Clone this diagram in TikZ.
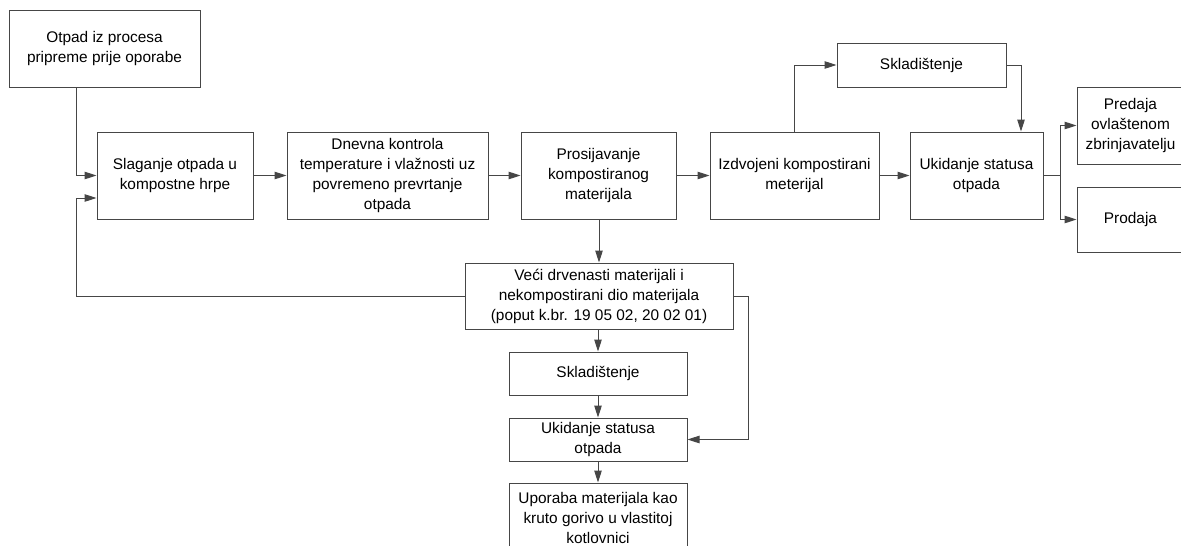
\documentclass[tikz,border=0pt]{standalone}
\usepackage{fontspec}
\setmainfont{Liberation Sans}
\usetikzlibrary{arrows.meta}
\definecolor{ln}{RGB}{70,70,70}
\begin{document}
\begin{tikzpicture}[x=1pt,y=-1pt,
  box/.style={draw=ln, line width=1pt, align=center, inner sep=0pt,
    font=\fontsize{15.4pt}{20pt}\selectfont},
  arr/.style={draw=ln, line width=1pt, -{Triangle[length=12pt,width=7.5pt]}},
  ln/.style={draw=ln, line width=1pt}]
\useasboundingbox (0,0) rectangle (1181,546);
\node[box, minimum width=191pt, minimum height=77pt] (otpad) at (104.5,48.5) {Otpad iz procesa\\pripreme prije oporabe};
\node[box, minimum width=156pt, minimum height=87pt] (slag) at (175,175.5) {Slaganje otpada u\\kompostne hrpe};
\node[box, minimum width=201pt, minimum height=87pt] (dnev) at (387.5,175.5) {Dnevna kontrola\\temperature i vlažnosti uz\\povremeno prevrtanje\\otpada};
\node[box, minimum width=155pt, minimum height=87pt] (pros) at (598.5,175.5) {Prosijavanje\\kompostiranog\\materijala};
\node[box, minimum width=169pt, minimum height=87pt] (izdv) at (794.5,175.5) {Izdvojeni kompostirani\\meterijal};
\node[box, minimum width=133pt, minimum height=87pt] (ukid) at (976.5,175.5) {Ukidanje statusa\\otpada};
\node[box, minimum width=169pt, minimum height=44pt] (skl1) at (921.5,65) {Skladištenje};
\node[box, minimum width=107pt, minimum height=77pt] (pred) at (1130.5,125.5) {Predaja\\ovlaštenom\\zbrinjavatelju};
\node[box, minimum width=107pt, minimum height=65pt] (prod) at (1130.5,219.5) {Prodaja};
\node[box, minimum width=268pt, minimum height=66pt] (veci) at (599,296) {Veći drvenasti materijali i\\nekompostirani dio materijala\\(poput k.br. 19 05 02, 20 02 01)};
\node[box, minimum width=178pt, minimum height=43pt] (skl2) at (598,373.5) {Skladištenje};
\node[box, minimum width=178pt, minimum height=43pt] (ukid2) at (598,439.5) {Ukidanje statusa\\otpada};
\node[box, minimum width=178pt, minimum height=70pt] (upor) at (598,518) {Uporaba materijala kao\\kruto gorivo u vlastitoj\\kotlovnici};
\coordinate (lx) at (76,0);
\coordinate (rx) at (748,0);
\coordinate (sx) at (1021,0);
\coordinate (jx) at (1060,0);
\coordinate (s1) at ([yshift=-22.5pt]slag.west);
% connectors
\draw[arr] (otpad.south -| lx) |- (slag.west);
\draw[arr] (veci.west) -| (lx |- s1) -- (s1);
\draw[arr] (slag) -- (dnev);
\draw[arr] (dnev) -- (pros);
\draw[arr] (pros) -- (izdv);
\draw[arr] (izdv) -- (ukid);
\draw[arr] (izdv.north) |- (skl1.west);
\draw[arr] (skl1.east) -| (sx |- ukid.north);
\draw[ln] (ukid.east) -- (jx |- ukid.east);
\draw[arr] (jx |- ukid.east) |- (pred.west);
\draw[arr] (jx |- ukid.east) |- (prod.west);
\draw[arr] (pros.south -| veci.north) -- (veci.north);
\draw[arr] (veci.east) -| (rx |- ukid2.east) -- (ukid2.east);
\draw[arr] (veci.south -| skl2.north) -- (skl2.north);
\draw[arr] (skl2) -- (ukid2);
\draw[arr] (ukid2) -- (upor);
\end{tikzpicture}
\end{document}
